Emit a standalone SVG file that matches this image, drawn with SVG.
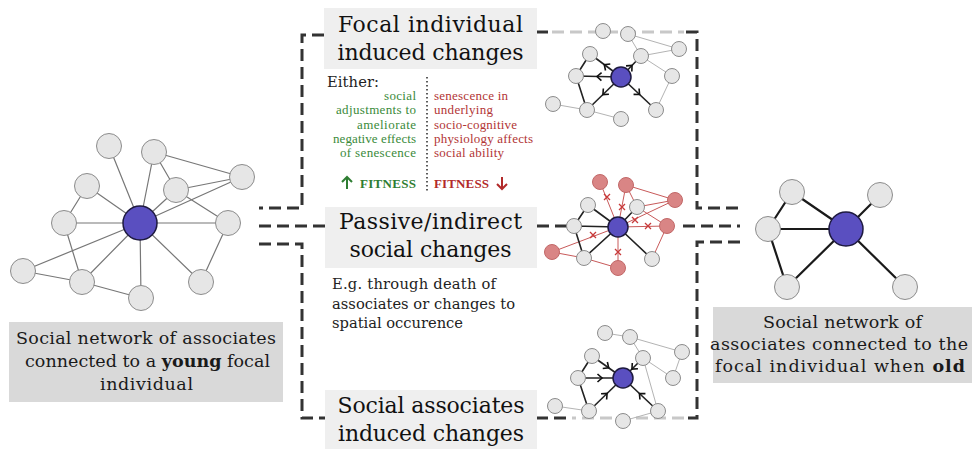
<svg xmlns="http://www.w3.org/2000/svg" width="972" height="449" viewBox="0 0 972 449">
<style>
.dash{fill:none;stroke:#333;stroke-width:3;stroke-dasharray:12 6}
.dashl{fill:none;stroke:#c8c8c8;stroke-width:3;stroke-dasharray:12 6}
.dot{fill:none;stroke:#333;stroke-width:1.6;stroke-dasharray:1.6 2.4}
.nd{fill:#e6e6e6;stroke:#8c8c8c;stroke-width:1}
.fc{fill:#5a4fc0;stroke:#1e1a40;stroke-width:1.5}
.rn{fill:#d98585;stroke:#c26868;stroke-width:1}
.eg{stroke:#777;stroke-width:1.2;fill:none}
.ek{stroke:#222;stroke-width:1.6;fill:none}
.ekr{stroke:#1a1a1a;stroke-width:2.2;fill:none}
.et{stroke:#aaa;stroke-width:0.9;fill:none}
.er{stroke:#c85a5a;stroke-width:1;fill:none}
.xm{stroke:#c83a3a;stroke-width:1.3}
.box{fill:#efefef}
.cap{fill:#d9d9d9}
.ttl{font-family:"DejaVu Serif","Liberation Serif",serif;font-size:22px;fill:#111}
.body{font-family:"DejaVu Serif","Liberation Serif",serif;font-size:14.7px;fill:#222}
.captx{font-family:"DejaVu Serif","Liberation Serif",serif;font-size:17.5px;fill:#1a1a1a}
.gr{font-family:"Liberation Serif",serif;font-size:13px;fill:#3a8a3a}
.rd{font-family:"Liberation Serif",serif;font-size:13px;fill:#b23535}
.fitg{font-family:"Liberation Serif",serif;font-size:13px;font-weight:bold;fill:#2e7d32}
.fitr{font-family:"Liberation Serif",serif;font-size:13px;font-weight:bold;fill:#b22a2a}
</style>
<defs>
<marker id="chev" markerUnits="userSpaceOnUse" markerWidth="12" markerHeight="12" viewBox="-6 -6 12 12" refX="0" refY="0" orient="auto">
<path d="M-3,-4 L1.5,0 L-3,4" fill="none" stroke="#111" stroke-width="1.6"/>
</marker>
</defs>

<!-- dashed bracket connectors -->
<g id="connectors">
<path class="dash" d="M324,35 H302 V208 H259"/>
<path class="dash" d="M259,226 H325"/>
<path class="dash" d="M259,244 H302 V418 H325"/>
<path class="dash" d="M537,32 H548"/>
<path class="dashl" d="M552,32 H684"/>
<path class="dash" d="M686,32 H697 V208 H740"/>
<path class="dash" d="M537,226 H568"/>
<path class="dash" d="M683,226 H740"/>
<path class="dash" d="M740,242 H697 V418 H686"/>
<path class="dashl" d="M684,418 H572"/>
<path class="dash" d="M566,418 H537"/>
<path class="dot" d="M427,77 V192"/>

<!-- left network edges -->
<g id="left-edges">
<path class="eg" d="M140,223 L109,146 M140,223 L154,152 M140,223 L87,186 M140,223 L176,190 M140,223 L242,177 M140,223 L64,223 M140,223 L228,223 M140,223 L23,271 M140,223 L82,282 M140,223 L141,298 M140,223 L201,282"/>
<path class="eg" d="M154,152 L242,177 M154,152 L176,190 M176,190 L242,177 M176,190 L228,223 M87,186 L64,223 M64,223 L82,282 M23,271 L82,282 M82,282 L141,298 M228,223 L201,282"/>
</g>

<!-- top network edges -->
<g id="top-edges">
<path class="et" d="M628,34 L679,49 M628,34 L641,56 M641,56 L679,49 M641,56 L672,76 M672,76 L656,110 M553,104 L587,110 M587,110 L621,119"/>
<path class="ek" d="M590,54 L576,76 M576,76 L587,110"/>
<path class="ek" marker-mid="url(#chev)" d="M621,77 L605.5,65.5 L590,54"/>
<path class="ek" marker-mid="url(#chev)" d="M621,77 L598.5,76.5 L576,76"/>
<path class="ek" marker-mid="url(#chev)" d="M621,77 L631,66.5 L641,56"/>
<path class="ek" marker-mid="url(#chev)" d="M621,77 L604,93.5 L587,110"/>
<path class="ek" marker-mid="url(#chev)" d="M621,77 L638.5,93.5 L656,110"/>
</g>

<!-- middle network edges -->
<g id="mid-edges">
<path class="er" d="M626,185 L675,200 M626,185 L637,207 M637,207 L675,200 M637,207 L667,226 M552,252 L584,258 M584,258 L618,268 M667,226 L652,259"/>
<path class="er" d="M618,227 L600,182 M618,227 L626,185 M618,227 L675,200 M618,227 L667,226 M618,227 L552,252 M618,227 L618,268"/>
<path class="ek" d="M618,227 L588,205 M618,227 L637,207 M618,227 L574,226 M618,227 L584,258 M618,227 L652,259 M588,205 L574,226 M574,226 L584,258"/>
<path class="xm" d="M604,194 l6,6 m0,-6 l-6,6 M619,204 l6,6 m0,-6 l-6,6 M632,217 l6,6 m0,-6 l-6,6 M645,223 l6,6 m0,-6 l-6,6 M590,232 l6,6 m0,-6 l-6,6 M615,249 l6,6 m0,-6 l-6,6"/>
</g>

<!-- bottom network edges -->
<g id="bottom-edges">
<path class="et" d="M605,333 L630,337 M630,337 L682,352 M630,337 L643,358 M682,352 L673,378 M643,358 L673,378 M643,358 L658,411 M555,406 L589,411 M658,411 L623,421"/>
<path class="ek" d="M592,356 L578,378 M578,378 L589,411"/>
<path class="ek" marker-mid="url(#chev)" d="M592,356 L607.5,367 L623,378"/>
<path class="ek" marker-mid="url(#chev)" d="M578,378 L600.5,378 L623,378"/>
<path class="ek" marker-mid="url(#chev)" d="M589,411 L606,394.5 L623,378"/>
<path class="ek" marker-mid="url(#chev)" d="M643,358 L633,368 L623,378"/>
<path class="ek" marker-mid="url(#chev)" d="M658,411 L640.5,394.5 L623,378"/>
</g>

<!-- right network edges -->
<g id="right-edges">
<path class="ekr" d="M846,229 L792,192 M846,229 L768,229 M846,229 L880,195 M846,229 L787,287 M846,229 L905,287 M792,192 L768,229 M768,229 L787,287"/>
</g>

<!-- fitness arrows -->
<path d="M347,189 V177 M342,182 L347,177 L352,182" fill="none" stroke="#2e7d32" stroke-width="2"/>
<path d="M502,177 V189 M497,184 L502,189 L507,184" fill="none" stroke="#b22a2a" stroke-width="2"/>
</g>

<!-- left network nodes -->
<g id="left-network">
<g id="L1"><circle class="nd" cx="109" cy="146" r="12.5"/></g>
<g id="L2"><circle class="nd" cx="154" cy="152" r="12.5"/></g>
<g id="L3"><circle class="nd" cx="87" cy="186" r="12.5"/></g>
<g id="L4"><circle class="nd" cx="176" cy="190" r="12.5"/></g>
<g id="L5"><circle class="nd" cx="242" cy="177" r="12.5"/></g>
<g id="L6"><circle class="nd" cx="64" cy="223" r="12.5"/></g>
<g id="L7"><circle class="nd" cx="228" cy="223" r="12.5"/></g>
<g id="L8"><circle class="nd" cx="23" cy="271" r="12.5"/></g>
<g id="L9"><circle class="nd" cx="82" cy="282" r="12.5"/></g>
<g id="L10"><circle class="nd" cx="141" cy="298" r="12.5"/></g>
<g id="L11"><circle class="nd" cx="201" cy="282" r="12.5"/></g>
<g id="LC"><circle class="fc" cx="140" cy="223" r="17"/></g>
</g>

<!-- top network nodes -->
<g id="top-network">
<g id="T1"><circle class="nd" cx="603" cy="31" r="7.5"/></g>
<g id="T2"><circle class="nd" cx="628" cy="34" r="7.5"/></g>
<g id="T3"><circle class="nd" cx="679" cy="49" r="7.5"/></g>
<g id="T4"><circle class="nd" cx="590" cy="54" r="7.5"/></g>
<g id="T5"><circle class="nd" cx="641" cy="56" r="7.5"/></g>
<g id="T6"><circle class="nd" cx="576" cy="76" r="7.5"/></g>
<g id="T7"><circle class="nd" cx="672" cy="76" r="7.5"/></g>
<g id="T8"><circle class="nd" cx="553" cy="104" r="7.5"/></g>
<g id="T9"><circle class="nd" cx="587" cy="110" r="7.5"/></g>
<g id="T10"><circle class="nd" cx="656" cy="110" r="7.5"/></g>
<g id="T11"><circle class="nd" cx="621" cy="119" r="7.5"/></g>
<g id="TC"><circle class="fc" cx="621" cy="77" r="10"/></g>
</g>

<!-- middle network nodes -->
<g id="mid-network">
<g id="R1"><circle class="rn" cx="600" cy="182" r="7.5"/></g>
<g id="R2"><circle class="rn" cx="626" cy="185" r="7.5"/></g>
<g id="R3"><circle class="rn" cx="675" cy="200" r="7.5"/></g>
<g id="R4"><circle class="rn" cx="667" cy="226" r="7.5"/></g>
<g id="R5"><circle class="rn" cx="552" cy="252" r="7.5"/></g>
<g id="R6"><circle class="rn" cx="618" cy="268" r="7.5"/></g>
<g id="G1"><circle class="nd" cx="588" cy="205" r="7.5"/></g>
<g id="G2"><circle class="nd" cx="637" cy="207" r="7.5"/></g>
<g id="G3"><circle class="nd" cx="574" cy="226" r="7.5"/></g>
<g id="G4"><circle class="nd" cx="584" cy="258" r="7.5"/></g>
<g id="G5"><circle class="nd" cx="652" cy="259" r="7.5"/></g>
<g id="MC"><circle class="fc" cx="618" cy="227" r="10"/></g>
</g>

<!-- bottom network nodes -->
<g id="bottom-network">
<g id="B1"><circle class="nd" cx="605" cy="333" r="7.5"/></g>
<g id="B2"><circle class="nd" cx="630" cy="337" r="7.5"/></g>
<g id="B3"><circle class="nd" cx="682" cy="352" r="7.5"/></g>
<g id="B4"><circle class="nd" cx="592" cy="356" r="7.5"/></g>
<g id="B5"><circle class="nd" cx="643" cy="358" r="7.5"/></g>
<g id="B6"><circle class="nd" cx="578" cy="378" r="7.5"/></g>
<g id="B7"><circle class="nd" cx="673" cy="378" r="7.5"/></g>
<g id="B8"><circle class="nd" cx="555" cy="406" r="7.5"/></g>
<g id="B9"><circle class="nd" cx="589" cy="411" r="7.5"/></g>
<g id="B10"><circle class="nd" cx="658" cy="411" r="7.5"/></g>
<g id="B11"><circle class="nd" cx="623" cy="421" r="7.5"/></g>
<g id="BC"><circle class="fc" cx="623" cy="378" r="10"/></g>
</g>

<!-- right network nodes -->
<g id="right-network">
<g id="Ra"><circle class="nd" cx="792" cy="192" r="12.5"/></g>
<g id="Rb"><circle class="nd" cx="768" cy="229" r="12.5"/></g>
<g id="Rc"><circle class="nd" cx="880" cy="195" r="12.5"/></g>
<g id="Rd"><circle class="nd" cx="787" cy="287" r="12.5"/></g>
<g id="Re"><circle class="nd" cx="905" cy="287" r="12.5"/></g>
<g id="RC"><circle class="fc" cx="846" cy="229" r="17"/></g>
</g>

<!-- focal individual box -->
<g id="focal-box">
<rect class="box" x="324" y="8" width="213" height="61"/>
<text class="ttl" x="430.5" y="32" text-anchor="middle" textLength="185" lengthAdjust="spacing">Focal individual</text>
<text class="ttl" x="430.5" y="60" text-anchor="middle" textLength="186" lengthAdjust="spacing">induced changes</text>
</g>

<g id="either">
<text class="body" x="327" y="87" font-size="15" textLength="52" lengthAdjust="spacing">Either:</text>
<text class="gr" x="416" y="100" text-anchor="end" textLength="32" lengthAdjust="spacing">social</text>
<text class="gr" x="416" y="114" text-anchor="end" textLength="80" lengthAdjust="spacing">adjustments to</text>
<text class="gr" x="416" y="129" text-anchor="end" textLength="59" lengthAdjust="spacing">ameliorate</text>
<text class="gr" x="416" y="143" text-anchor="end" textLength="83" lengthAdjust="spacing">negative effects</text>
<text class="gr" x="416" y="157" text-anchor="end" textLength="76" lengthAdjust="spacing">of senescence</text>
<text class="rd" x="434" y="100" textLength="74" lengthAdjust="spacing">senescence in</text>
<text class="rd" x="434" y="114" textLength="59" lengthAdjust="spacing">underlying</text>
<text class="rd" x="434" y="129" textLength="83" lengthAdjust="spacing">socio-cognitive</text>
<text class="rd" x="434" y="143" textLength="99" lengthAdjust="spacing">physiology affects</text>
<text class="rd" x="434" y="157" textLength="70" lengthAdjust="spacing">social ability</text>
<text class="fitg" x="416" y="188" text-anchor="end" textLength="56" lengthAdjust="spacing">FITNESS</text>
<text class="fitr" x="434" y="188" textLength="55" lengthAdjust="spacing">FITNESS</text>
</g>

<!-- passive box -->
<g id="passive-box">
<rect class="box" x="325" y="207" width="212" height="61"/>
<text class="ttl" x="430.5" y="229" text-anchor="middle" textLength="183" lengthAdjust="spacing">Passive/indirect</text>
<text class="ttl" x="430.5" y="257" text-anchor="middle" textLength="162" lengthAdjust="spacing">social changes</text>
</g>

<g id="passive-text">
<text class="body" x="332" y="289" textLength="164" lengthAdjust="spacing">E.g. through death of</text>
<text class="body" x="332" y="309" textLength="183" lengthAdjust="spacing">associates or changes to</text>
<text class="body" x="332" y="328" textLength="131" lengthAdjust="spacing">spatial occurence</text>
</g>

<!-- social associates box -->
<g id="associates-box">
<rect class="box" x="325" y="390" width="212" height="59"/>
<text class="ttl" x="431" y="413" text-anchor="middle" textLength="187" lengthAdjust="spacing">Social associates</text>
<text class="ttl" x="431" y="441" text-anchor="middle" textLength="186" lengthAdjust="spacing">induced changes</text>
</g>

<!-- left caption -->
<g id="young-caption">
<rect class="cap" x="9" y="322" width="274" height="80"/>
<text class="captx" x="146" y="344" text-anchor="middle" textLength="260" lengthAdjust="spacing">Social network of associates</text>
<text class="captx" x="147.5" y="367" text-anchor="middle" textLength="245" lengthAdjust="spacing">connected to a <tspan font-weight="bold">young</tspan> focal</text>
<text class="captx" x="146.5" y="390" text-anchor="middle" textLength="93" lengthAdjust="spacing">individual</text>
</g>

<!-- right caption -->
<g id="old-caption">
<rect class="cap" x="713" y="307" width="259" height="76"/>
<text class="captx" x="842.5" y="328" text-anchor="middle" textLength="159" lengthAdjust="spacing">Social network of</text>
<text class="captx" x="839" y="350" text-anchor="middle" textLength="258" lengthAdjust="spacing">associates connected to the</text>
<text class="captx" x="840" y="372" text-anchor="middle" textLength="250" lengthAdjust="spacing">focal individual when <tspan font-weight="bold">old</tspan></text>
</g>
</svg>
